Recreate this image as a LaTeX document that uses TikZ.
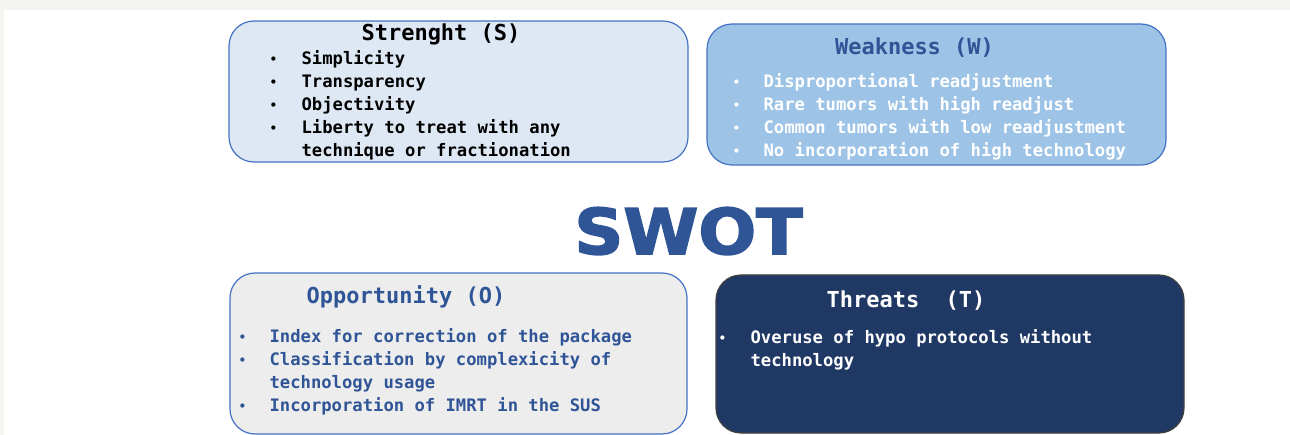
\documentclass[tikz,border=0pt]{standalone}
\usepackage{fontspec}
\usepackage{graphicx}
\newfontfamily\consfont{DejaVu Sans Mono}
\newfontfamily\swotfont[BoldFeatures={FakeBold=2.5}]{DejaVu Sans}
\newcommand{\dotitem}{\makebox[10.4pt]{\raisebox{1.2pt}{\scalebox{0.7}{•}}}}
\definecolor{swotblue}{HTML}{2F5597}
\definecolor{edgeblue}{HTML}{4472C4}
\definecolor{paleblue}{HTML}{DEE8F4}
\definecolor{midblue}{HTML}{9DC3E6}
\definecolor{palegray}{HTML}{EDEDED}
\definecolor{navy}{HTML}{203864}
\definecolor{framegray}{HTML}{F4F4F0}
\begin{document}
\begin{tikzpicture}[x=1pt, y=-1pt,
    box/.style={draw=edgeblue, line width=1.2pt, rounded corners=25pt, inner sep=0pt},
    head/.style={anchor=base, inner sep=0pt, font=\consfont\bfseries\fontsize{22}{26}\selectfont},
    items/.style={anchor=base west, inner sep=0pt, font=\consfont\bfseries\fontsize{17.2}{23}\selectfont}]
    \fill[framegray] (0,0) rectangle (1290,435);
    \fill[white] (4,10) rectangle (1290,435);
    \useasboundingbox (0,0) rectangle (1290,435);
    % the four quadrants
    \node [box, fill=paleblue, minimum width=459pt, minimum height=141pt] (S) at (458.5,91.5) {};
    \node [box, fill=midblue, minimum width=459pt, minimum height=141pt] (W) at (936.5,94.5) {};
    \node [box, fill=palegray, minimum width=457pt, minimum height=161pt] (O) at (458.5,353.5) {};
    \node [box, draw=black!75, fill=navy, minimum width=468pt, minimum height=158pt] (T) at (950,354) {};
    % titles
    \node [head] (Shead) at (441,41) {Strenght (S)};
    \node [head, text=swotblue] (Whead) at (914.5,55) {Weakness (W)};
    \node [head, text=swotblue] (Ohead) at (406,304) {Opportunity (O)};
    \node [head, text=white] (Thead) at (906,308) {Threats~~(T)};
    % bullet lists
    \node [items] (Slist) at (268,65) {\begin{tabular}[t]{@{}l@{\hspace{23pt}}l@{}}
        \dotitem&Simplicity\\ \dotitem&Transparency\\ \dotitem&Objectivity\\
        \dotitem&Liberty to treat with any\\ &technique or fractionation\end{tabular}};
    \node [items, text=white] (Wlist) at (731,88) {\begin{tabular}[t]{@{}l@{\hspace{22pt}}l@{}}
        \dotitem&Disproportional readjustment\\ \dotitem&Rare tumors with high readjust\\
        \dotitem&Common tumors with low readjustment\\ \dotitem&No incorporation of high technology\end{tabular}};
    \node [items, text=swotblue] (Olist) at (237,343) {\begin{tabular}[t]{@{}l@{\hspace{22pt}}l@{}}
        \dotitem&Index for correction of the package\\ \dotitem&Classification by complexicity of\\
        &technology usage\\ \dotitem&Incorporation of IMRT in the SUS\end{tabular}};
    \node [items, text=white] (Tlist) at (717,344) {\begin{tabular}[t]{@{}l@{\hspace{23pt}}l@{}}
        \dotitem&Overuse of hypo protocols without\\ &technology\end{tabular}};
    % centre word
    \node [anchor=base, inner sep=0pt, text=swotblue, font=\swotfont\bfseries\fontsize{63}{63}\selectfont] (swot) at (688.5,254) {\scalebox{1.08}[1]{SWOT}};
\end{tikzpicture}
\end{document}
